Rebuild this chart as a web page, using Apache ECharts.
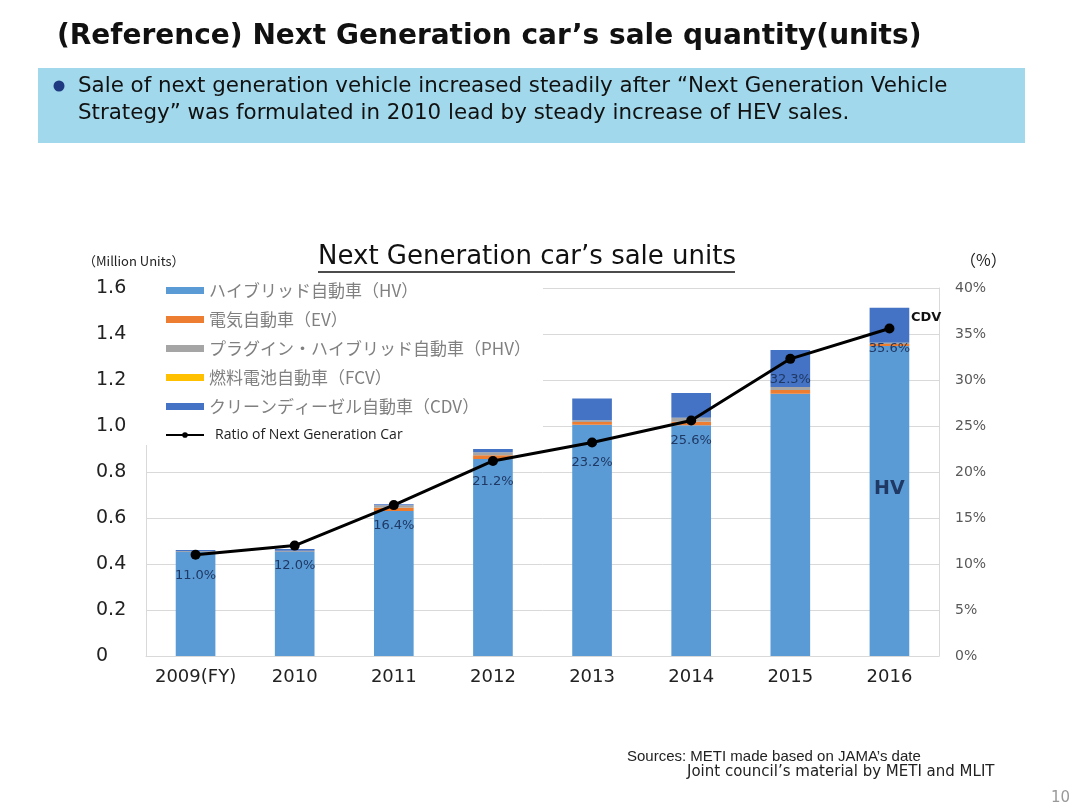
<!DOCTYPE html>
<html>
<head>
<meta charset="utf-8">
<script src="https://cdn.jsdelivr.net/npm/echarts@6/dist/echarts.min.js"></script>
<style>html,body{margin:0;padding:0;background:#fff;}#c{width:1080px;height:810px;}</style>
</head>
<body>
<div id="c"></div>
<script>
const years = ['2009(FY)', '2010', '2011', '2012', '2013', '2014', '2015', '2016'];
const hv  = [0.455, 0.455, 0.630, 0.857, 1.005, 1.003, 1.140, 1.348];
const ev  = [0.002, 0.003, 0.015, 0.016, 0.012, 0.016, 0.017, 0.008];
const phv = [0.000, 0.000, 0.010, 0.013, 0.008, 0.016, 0.013, 0.005];
const fcv = [0.000, 0.000, 0.000, 0.000, 0.000, 0.001, 0.000, 0.001];
const cdv = [0.004, 0.007, 0.005, 0.014, 0.095, 0.108, 0.160, 0.152];
const ratio = [11.0, 12.0, 16.4, 21.2, 23.2, 25.6, 32.3, 35.6];
const seriesNames = ['ハイブリッド自動車（HV）', '電気自動車（EV）', 'プラグイン・ハイブリッド自動車（PHV）', '燃料電池自動車（FCV）', 'クリーンディーゼル自動車（CDV）', 'Ratio of Next Generation Car'];
const colors = ['#5b9bd5', '#ed7d31', '#a5a5a5', '#ffc000', '#4472c4'];

const chart = echarts.init(document.getElementById('c'), null, {renderer: 'canvas'});
const jp = '"Noto Sans CJK JP", sans-serif';
const dv = '"DejaVu Sans", sans-serif';

const barData = [hv, ev, phv, fcv, cdv];
const series = barData.map((d, i) => ({
  name: seriesNames[i],
  type: 'bar',
  stack: 'total',
  yAxisIndex: 0,
  barWidth: '40%',
  itemStyle: {color: colors[i]},
  data: d,
  z: 2
}));
series.push({
  name: seriesNames[5],
  type: 'line',
  yAxisIndex: 1,
  data: ratio,
  symbol: 'circle',
  symbolSize: 10,
  lineStyle: {color: '#000', width: 3},
  itemStyle: {color: '#000'},
  label: {
    show: true, position: 'bottom', distance: 9,
    formatter: p => p.value.toFixed(1) + '%',
    color: '#1f3864', fontFamily: dv, fontSize: 13
  },
  z: 5
});

const option = {
  animation: false,
  backgroundColor: '#fff',
  grid: {left: 146, right: 141, top: 288, bottom: 154},
  legend: {
    orient: 'vertical', left: 146, top: 280,
    backgroundColor: '#fff',
    padding: [2, 12, 2, 19],
    itemWidth: 38, itemHeight: 7, itemGap: 12,
    textStyle: {fontFamily: jp, fontSize: 17, color: '#808080', lineHeight: 16},
    data: [
      {name: seriesNames[0], icon: 'rect'},
      {name: seriesNames[1], icon: 'rect'},
      {name: seriesNames[2], icon: 'rect'},
      {name: seriesNames[3], icon: 'rect'},
      {name: seriesNames[4], icon: 'rect'},
      {name: seriesNames[5], textStyle: {fontFamily: '"Open Sans", sans-serif', fontSize: 14, color: '#222', padding: [0, 0, 0, 6]}}
    ],
    z: 1
  },
  xAxis: {
    type: 'category', data: years,
    axisLine: {lineStyle: {color: '#d9d9d9'}},
    axisTick: {show: false},
    axisLabel: {color: '#222', fontFamily: dv, fontSize: 18, margin: 12, interval: 0}
  },
  yAxis: [
    {
      type: 'value', min: 0, max: 1.6, interval: 0.2,
      axisLine: {show: true, lineStyle: {color: '#d9d9d9'}},
      axisTick: {show: false},
      splitLine: {lineStyle: {color: '#d9d9d9'}},
      axisLabel: {color: '#222', fontFamily: dv, fontSize: 19, align: 'left', margin: 50,
        formatter: v => v === 0 ? '0' : v.toFixed(1)}
    },
    {
      type: 'value', min: 0, max: 40, interval: 5,
      axisLine: {show: true, lineStyle: {color: '#d9d9d9'}},
      axisTick: {show: false},
      splitLine: {show: false},
      axisLabel: {color: '#595959', fontFamily: dv, fontSize: 14, margin: 16, formatter: '{value}%'}
    }
  ],
  series: series,
  graphic: [
    {type: 'text', left: 57, top: 23, style: {text: '(Reference) Next Generation car’s sale quantity(units)', font: 'bold 28px "DejaVu Sans", sans-serif', fill: '#111'}},
    {type: 'rect', shape: {x: 38, y: 68, width: 987, height: 75}, style: {fill: '#a1d8eb'}},
    {type: 'circle', shape: {cx: 59, cy: 86, r: 5.5}, style: {fill: '#1f3a80'}},
    {type: 'text', left: 78, top: 73, style: {text: 'Sale of next generation vehicle increased steadily after “Next Generation Vehicle\nStrategy” was formulated in 2010 lead by steady increase of HEV sales.', font: '21.4px "DejaVu Sans", sans-serif', lineHeight: 27, fill: '#111'}},
    {type: 'text', left: 318, top: 244, style: {text: 'Next Generation car’s sale units', font: '26px "DejaVu Sans", sans-serif', fill: '#111'}},
    {type: 'line', shape: {x1: 318, y1: 272, x2: 735, y2: 272}, style: {stroke: '#111', lineWidth: 1.5}},
    {type: 'text', left: 83, top: 255, style: {text: '（Million Units）', font: '13px "Noto Sans CJK JP", sans-serif', fill: '#222'}},
    {type: 'text', left: 960, top: 252, style: {text: '（%）', font: '16px "Noto Sans CJK JP", sans-serif', fill: '#222'}},
    {type: 'text', left: 911, top: 311, style: {text: 'CDV', font: 'bold 13px "DejaVu Sans", sans-serif', fill: '#111'}, z: 20},
    {type: 'text', left: 874, top: 480, style: {text: 'HV', font: 'bold 19px "DejaVu Sans", sans-serif', fill: '#1f3864'}, z: 20},
    {type: 'text', left: 627, top: 749, style: {text: 'Sources: METI made based on JAMA’s date', font: '15px "Liberation Sans", sans-serif', fill: '#222'}},
    {type: 'text', left: 687, top: 765, style: {text: 'Joint council’s material by METI and MLIT', font: '15px "DejaVu Sans", sans-serif', fill: '#222'}},
    {type: 'text', left: 1051, top: 791, style: {text: '10', font: '15px "DejaVu Sans", sans-serif', fill: '#999'}}
  ]
};
chart.setOption(option);
</script>
</body>
</html>
